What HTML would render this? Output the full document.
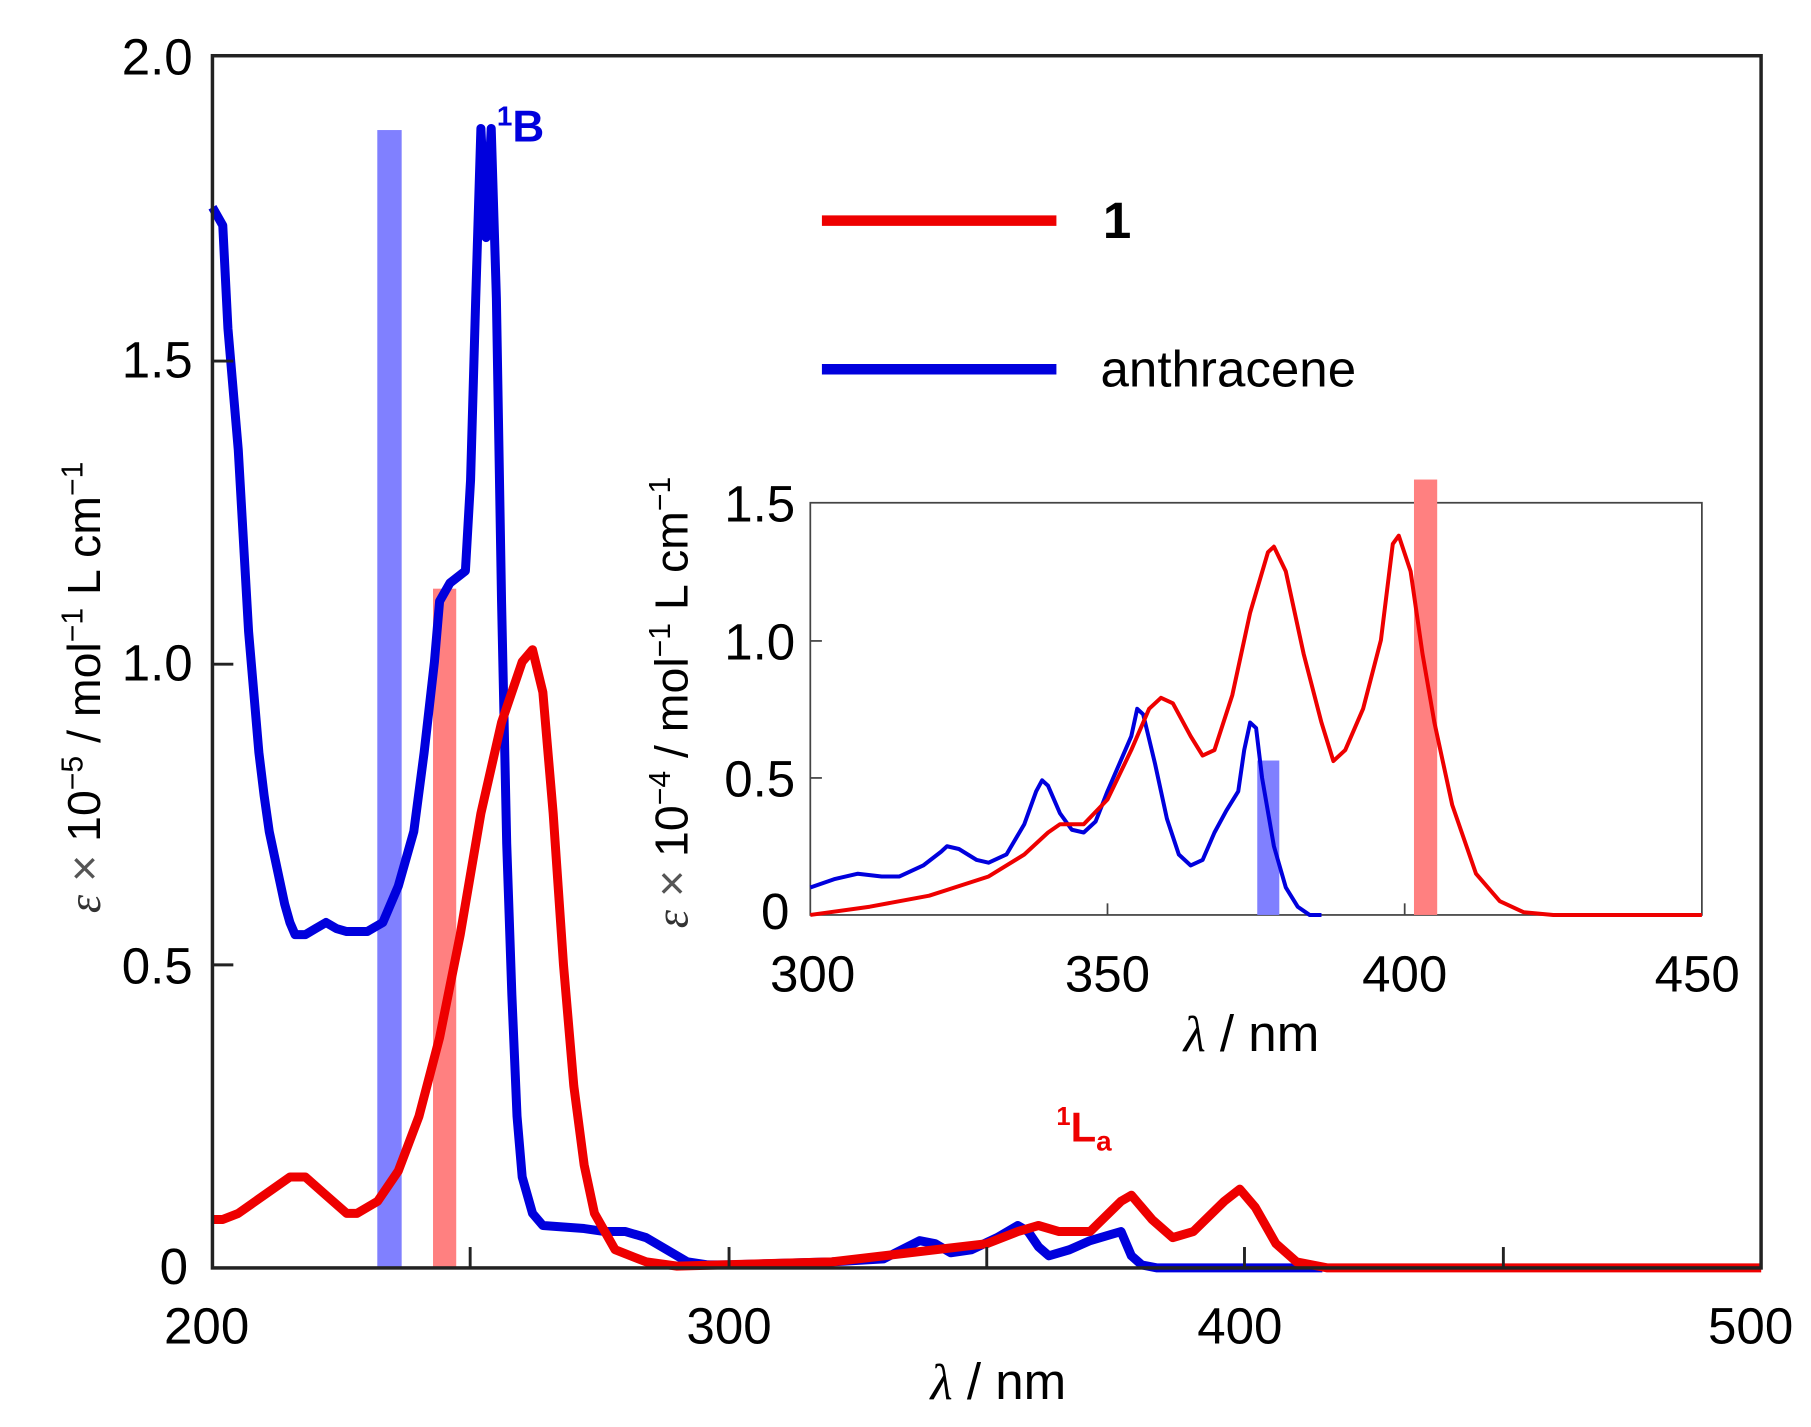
<!DOCTYPE html>
<html><head><meta charset="utf-8"><style>
html,body{margin:0;padding:0;background:#fff}
svg{display:block}
text{font-family:"Liberation Sans",sans-serif;fill:#000}
</style></head><body>
<svg width="1811" height="1427" viewBox="0 0 1560 1229" preserveAspectRatio="none" xmlns="http://www.w3.org/2000/svg">
<rect x="325" y="112" width="21" height="980" fill="#8080ff"/>
<rect x="373" y="507" width="20" height="585" fill="#ff8080"/>
<g transform="translate(183,1092) scale(4.447,-522)" fill="none" stroke-linejoin="round">
<path vector-effect="non-scaling-stroke" stroke="#0000dd" stroke-width="9" d="M0,1.75 L2,1.72 3,1.55 4,1.45 5,1.35 6,1.2 7,1.05 8,0.95 9,0.85 10,0.78 11,0.72 12,0.68 13,0.64 14,0.6 15,0.57 16,0.55 18,0.55 20,0.56 22,0.57 24,0.56 26,0.555 30,0.555 33,0.57 36,0.63 39,0.72 41,0.85 43,1.0 44,1.1 46,1.13 49,1.15 50,1.3 51,1.6 52,1.88 53,1.7 54,1.88 55,1.6 56,1.1 57,0.7 58,0.45 59,0.25 60,0.15 62,0.09 64,0.07 72,0.065 76,0.06 80,0.06 84,0.05 88,0.03 92,0.01 96,0.005 100,0.005 120,0.01 130,0.015 137,0.045 140,0.04 143,0.025 147,0.03 152,0.05 156,0.07 158,0.06 160,0.035 162,0.02 166,0.03 170,0.045 174,0.055 176,0.06 178,0.02 180,0.005 183,0 215,0"/>
<path vector-effect="non-scaling-stroke" stroke="#ee0000" stroke-width="9" d="M0,0.08 L2,0.08 5,0.09 10,0.12 15,0.15 18,0.15 22,0.12 26,0.09 28,0.09 32,0.11 36,0.16 40,0.25 44,0.38 48,0.55 52,0.75 56,0.9 60,1.0 62,1.02 64,0.95 66,0.75 68,0.5 70,0.3 72,0.17 74,0.09 78,0.03 84,0.01 90,0.003 120,0.01 140,0.03 150,0.04 156,0.06 160,0.07 164,0.06 170,0.06 176,0.11 178,0.12 182,0.08 186,0.05 190,0.06 196,0.11 199,0.13 202,0.1 206,0.04 210,0.01 216,0 300,0"/>
</g>
<rect x="183" y="48" width="1334" height="1044" fill="none" stroke="#222" stroke-width="3"/>
<g stroke="#222" stroke-width="2.5">
<line x1="405" y1="1092" x2="405" y2="1074"/><line x1="628" y1="1092" x2="628" y2="1074"/><line x1="850" y1="1092" x2="850" y2="1074"/><line x1="1072" y1="1092" x2="1072" y2="1074"/><line x1="1295" y1="1092" x2="1295" y2="1074"/>
<line x1="183" y1="831" x2="201" y2="831"/><line x1="183" y1="572" x2="201" y2="572"/><line x1="183" y1="311" x2="201" y2="311"/>
</g>
<g font-size="44" text-anchor="end">
<text x="166" y="64">2.0</text><text x="166" y="325">1.5</text><text x="166" y="586">1.0</text><text x="166" y="847">0.5</text><text x="162" y="1106">0</text>
</g>
<g font-size="44" text-anchor="middle">
<text x="178" y="1157">200</text><text x="628" y="1157">300</text><text x="1068" y="1157">400</text><text x="1508" y="1157">500</text>
<text x="860" y="1205"><tspan font-family="Liberation Serif" font-style="italic">λ</tspan> / nm</text>
</g>
<text transform="translate(86,592) rotate(-90)" font-size="40" text-anchor="middle"><tspan font-family="Liberation Serif" font-style="italic" fill="#333">ε</tspan><tspan fill="#555"> × </tspan>10<tspan dy="-15" font-size="26">−5</tspan><tspan dy="15"> / mol</tspan><tspan dy="-15" font-size="26">−1</tspan><tspan dy="15"> L cm</tspan><tspan dy="-15" font-size="26">−1</tspan></text>
<text x="428" y="122" font-size="38" font-weight="bold" style="fill:#0000dd"><tspan font-size="24" dy="-14">1</tspan><tspan dy="14">B</tspan></text>
<text x="910" y="983" font-size="36" font-weight="bold" style="fill:#ee0000"><tspan font-size="22" dy="-14">1</tspan><tspan dy="14">L</tspan><tspan font-size="24" dy="8">a</tspan></text>
<line x1="708" y1="190" x2="910" y2="190" stroke="#ee0000" stroke-width="9"/>
<text x="950" y="205" font-size="44" font-weight="bold">1</text>
<line x1="708" y1="318" x2="910" y2="318" stroke="#0000dd" stroke-width="9"/>
<text x="948" y="333" font-size="44">anthracene</text>
<rect x="698" y="433" width="768" height="355" fill="#fff" stroke="#444" stroke-width="1.5"/>
<rect x="1083" y="655" width="19" height="133" fill="#8080ff"/>
<rect x="1218" y="413" width="20" height="375" fill="#ff8080"/>
<g transform="translate(698,788) scale(5.12,-236.7)" fill="none" stroke-linejoin="round">
<path vector-effect="non-scaling-stroke" stroke="#0000dd" stroke-width="4" d="M0,0.1 L4,0.13 8,0.15 12,0.14 15,0.14 19,0.18 22,0.23 23,0.25 25,0.24 28,0.2 30,0.19 33,0.22 36,0.33 38,0.45 39,0.49 40,0.47 42,0.37 44,0.31 46,0.3 48,0.34 50,0.45 52,0.55 54,0.65 55,0.75 56,0.73 58,0.55 60,0.35 62,0.22 64,0.18 66,0.2 68,0.3 70,0.38 72,0.45 73,0.6 74,0.7 75,0.68 76,0.5 78,0.25 80,0.1 82,0.03 84,0 86,0"/>
<path vector-effect="non-scaling-stroke" stroke="#ee0000" stroke-width="4" d="M0,0 L10,0.03 20,0.07 30,0.14 36,0.22 40,0.3 42,0.33 46,0.33 50,0.42 54,0.6 57,0.75 59,0.79 61,0.77 64,0.65 66,0.58 68,0.6 71,0.8 74,1.1 77,1.32 78,1.34 80,1.25 83,0.95 86,0.7 88,0.56 90,0.6 93,0.75 96,1.0 98,1.35 99,1.38 101,1.25 103,0.95 105,0.7 108,0.4 112,0.15 116,0.05 120,0.01 125,0 150,0"/>
</g>
<g stroke="#444" stroke-width="1.5">
<line x1="954" y1="788" x2="954" y2="778"/><line x1="1210" y1="788" x2="1210" y2="778"/>
<line x1="698" y1="670" x2="708" y2="670"/><line x1="698" y1="552" x2="708" y2="552"/>
</g>
<g font-size="44" text-anchor="end">
<text x="685" y="449">1.5</text><text x="685" y="568">1.0</text><text x="685" y="686">0.5</text><text x="680" y="800">0</text>
</g>
<g font-size="44" text-anchor="middle">
<text x="700" y="854">300</text><text x="954" y="854">350</text><text x="1210" y="854">400</text><text x="1462" y="854">450</text>
<text x="1078" y="905"><tspan font-family="Liberation Serif" font-style="italic">λ</tspan> / nm</text>
</g>
<text transform="translate(592,605) rotate(-90)" font-size="40" text-anchor="middle"><tspan font-family="Liberation Serif" font-style="italic" fill="#333">ε</tspan><tspan fill="#555"> × </tspan>10<tspan dy="-15" font-size="26">−4</tspan><tspan dy="15"> / mol</tspan><tspan dy="-15" font-size="26">−1</tspan><tspan dy="15"> L cm</tspan><tspan dy="-15" font-size="26">−1</tspan></text>
</svg>
</body></html>
